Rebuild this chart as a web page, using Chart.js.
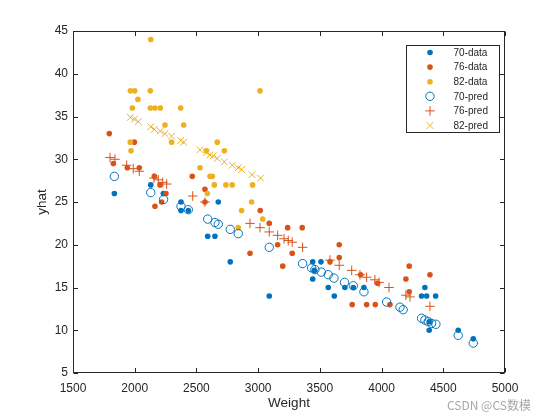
<!DOCTYPE html>
<html>
<head>
<meta charset="utf-8">
<script src="https://cdn.jsdelivr.net/npm/chart.js@4/dist/chart.umd.min.js"></script>
<style>
  html, body { margin: 0; padding: 0; background: #fff; }
  canvas { display: block; }
</style>
</head>
<body>
<canvas id="chartYhat" width="560" height="420"></canvas>
<script>
// dữ liệu
const w70 = [1835, 2130, 2232, 2375, 2375, 2434, 2677, 2591, 2650, 2774, 3090, 3442, 3509, 3455, 3442, 3568, 3617, 3703, 3771, 3857, 4351, 4324, 4365, 4438, 4386, 4386, 4621, 4743];
const y70 = [26, 27, 26, 25, 24, 24, 25, 21, 21, 18, 14, 18, 18, 17, 16, 15, 14, 15, 15, 15, 15, 14, 14, 14, 11, 10, 10, 9];

const w76 = [1794, 1827, 1940, 1997, 2037, 2159, 2205, 2253, 2218, 2164, 2466, 2569, 2569, 2934, 3017, 3090, 3158, 3239, 3357, 3276, 3199, 3582, 3657, 3657, 3762, 3830, 3879, 3949, 3968, 4068, 4197, 4224, 4224, 4392];
const y76 = [33, 29.5, 29, 32, 29, 28, 27, 26, 25, 24.5, 28, 26.5, 25, 19, 24, 22.5, 20, 22, 22, 19, 17.5, 18, 20, 18.5, 13, 16.5, 13, 13, 15.5, 13, 16, 17.5, 14.5, 16.5];

const w82 = [2130, 1965, 2000, 2126, 2026, 1981, 2126, 2164, 2207, 2372, 2245, 2397, 1964, 2299, 2669, 1970, 2580, 2726, 2529, 2610, 2629, 2645, 2739, 2790, 2955, 2588, 2947, 2866, 3037, 2839, 3015];
const y82 = [44, 38, 38, 38, 37, 36, 36, 36, 36, 36, 34, 34, 32, 32, 32, 31, 31, 31, 29, 28, 28, 27, 27, 27, 27, 26, 25, 24, 23, 22, 38];

const wp70 = [1835, 2130, 2234, 2375, 2434, 2591, 2650, 2677, 2774, 2839, 3090, 3360, 3433, 3460, 3512, 3568, 3614, 3700, 3771, 3857, 4041, 4149, 4175, 4324, 4351, 4378, 4405, 4440, 4621, 4743];
const p70 = [28.0, 26.1, 25.3, 24.5, 24.1, 23.0, 22.6, 22.4, 21.8, 21.3, 19.7, 17.8, 17.3, 17.1, 16.8, 16.5, 16.1, 15.6, 15.2, 14.5, 13.3, 12.7, 12.4, 11.4, 11.2, 11.0, 10.8, 10.7, 9.4, 8.5];

const wp76 = [1800, 1840, 1935, 1988, 2037, 2156, 2191, 2227, 2259, 2470, 2569, 2934, 3015, 3090, 3158, 3210, 3244, 3276, 3360, 3582, 3657, 3758, 3825, 3879, 3946, 3979, 4060, 4197, 4230, 4392];
const p76 = [30.2, 30.0, 29.3, 28.9, 28.6, 27.8, 27.6, 27.3, 27.1, 25.7, 25.0, 22.5, 22.0, 21.5, 21.1, 20.7, 20.5, 20.3, 19.7, 18.2, 17.6, 17.0, 16.5, 16.2, 15.9, 15.6, 15.0, 14.1, 13.9, 12.8];

const wp82 = [1965, 1997, 2029, 2130, 2159, 2207, 2245, 2299, 2372, 2397, 2529, 2580, 2610, 2637, 2669, 2726, 2790, 2839, 2866, 2950, 3020];
const p82 = [34.9, 34.7, 34.4, 33.8, 33.5, 33.3, 33.0, 32.7, 32.2, 32.0, 31.1, 30.8, 30.5, 30.4, 30.1, 29.7, 29.3, 29.0, 28.8, 28.2, 27.8];

const xTicks = [1500, 2000, 2500, 3000, 3500, 4000, 4500, 5000];
const yTicks = [5, 10, 15, 20, 25, 30, 35, 40, 45];
const legendLabels = ['70-data', '76-data', '82-data', '70-pred', '76-pred', '82-pred'];

const BLUE = '#0072BD', RED = '#D95319', YEL = '#EDB120';
const AXIS = '#262626';
const FONT = "'Liberation Sans', Arial, sans-serif";

const toPts = (xs, ys) => xs.map((x, i) => ({x: x, y: ys[i]}));

function dotSet(label, xs, ys, color, order){
  return { label, data: toPts(xs, ys), order,
    pointStyle: 'circle', pointRadius: 2.8, pointBackgroundColor: color,
    pointBorderWidth: 0, pointBorderColor: color };
}
function predSet(label, xs, ys, color, style, r, order){
  return { label, data: toPts(xs, ys), order,
    pointStyle: style, pointRadius: r, pointBackgroundColor: 'rgba(0,0,0,0)',
    pointBorderColor: color, pointBorderWidth: 1 };
}

// khung, vạch chia, chú giải, chữ mờ
const matlabDeco = {
  id: 'matlabDeco',
  afterDraw(chart){
    const {ctx, chartArea: a, scales} = chart;
    ctx.save();
    ctx.strokeStyle = AXIS;
    ctx.lineWidth = 1;
    const L = Math.round(a.left) + 0.5, R = Math.round(a.right) - 0.5;
    const T = Math.round(a.top) + 0.5, B = Math.round(a.bottom) - 0.5;
    ctx.strokeRect(L, T, R - L, B - T);
    const tl = 4.5;
    ctx.beginPath();
    xTicks.forEach(v => {
      const px = Math.round(scales.x.getPixelForValue(v)) + 0.5;
      ctx.moveTo(px, B); ctx.lineTo(px, B - tl);
      ctx.moveTo(px, T); ctx.lineTo(px, T + tl);
    });
    yTicks.forEach(v => {
      const py = Math.round(scales.y.getPixelForValue(v)) + 0.5;
      ctx.moveTo(L, py); ctx.lineTo(L + tl, py);
      ctx.moveTo(R, py); ctx.lineTo(R - tl, py);
    });
    ctx.stroke();

    // chú giải
    const lx = 406.5, ly = 45.5, lw = 93, lh = 87;
    ctx.fillStyle = '#fff';
    ctx.fillRect(lx, ly, lw, lh);
    ctx.strokeStyle = AXIS;
    ctx.strokeRect(lx, ly, lw, lh);
    ctx.font = '10px ' + FONT;
    ctx.textBaseline = 'middle';
    ctx.textAlign = 'left';
    legendLabels.forEach((lab, i) => {
      const ds = chart.data.datasets[i];
      const cy = ly + 7 + i * 14.6;
      ctx.save();
      ctx.fillStyle = ds.pointBackgroundColor;
      ctx.strokeStyle = ds.pointBorderColor;
      ctx.lineWidth = ds.pointBorderWidth || 0;
      Chart.helpers.drawPoint(ctx, {
        pointStyle: ds.pointStyle, radius: ds.pointRadius, rotation: 0,
        borderWidth: ds.pointBorderWidth
      }, lx + 23.5, cy);
      ctx.restore();
      ctx.fillStyle = AXIS;
      ctx.fillText(lab, lx + 47, cy + 0.5);
    });

    // chữ mờ góc dưới
    ctx.fillStyle = 'rgba(150,150,150,0.85)';
    ctx.font = "12px 'Noto Sans CJK SC', " + FONT;
    ctx.textAlign = 'left';
    ctx.fillText('CSDN @CS数模', 447, 405);
    ctx.restore();
  }
};

new Chart(document.getElementById('chartYhat').getContext('2d'), {
  type: 'scatter',
  data: {
    datasets: [
      dotSet('70-data', w70, y70, BLUE, 6),
      dotSet('76-data', w76, y76, RED, 5),
      dotSet('82-data', w82, y82, YEL, 4),
      predSet('70-pred', wp70, p70, BLUE, 'circle', 4.2, 3),
      predSet('76-pred', wp76, p76, RED, 'cross', 4.8, 2),
      predSet('82-pred', wp82, p82, YEL, 'crossRot', 4.8, 1)
    ]
  },
  options: {
    responsive: false,
    animation: false,
    events: [],
    layout: { padding: { left: 0, top: 31, right: 55, bottom: 0 } },
    plugins: { legend: { display: false }, tooltip: { enabled: false } },
    scales: {
      x: {
        type: 'linear', min: 1500, max: 5000,
        afterBuildTicks: s => { s.ticks = xTicks.map(v => ({value: v})); },
        afterFit: s => { s.height = 47; },
        grid: { display: false, drawTicks: false },
        border: { display: false },
        ticks: { color: AXIS, font: { family: FONT, size: 12 }, padding: 8, maxRotation: 0,
                 callback: v => String(v) },
        title: { display: true, text: 'Weight', color: AXIS,
                 font: { family: FONT, size: 13.5 }, padding: { top: 0, bottom: 9 } }
      },
      y: {
        type: 'linear', min: 5, max: 45,
        afterBuildTicks: s => { s.ticks = yTicks.map(v => ({value: v})); },
        afterFit: s => { s.width = 73; },
        grid: { display: false, drawTicks: false },
        border: { display: false },
        ticks: { color: AXIS, font: { family: FONT, size: 12 }, padding: 5,
                 callback: v => String(v) },
        title: { display: true, text: 'yhat', color: AXIS,
                 font: { family: FONT, size: 13.5 }, padding: { top: 34, bottom: 0 } }
      }
    }
  },
  plugins: [matlabDeco]
});
</script>
</body>
</html>
